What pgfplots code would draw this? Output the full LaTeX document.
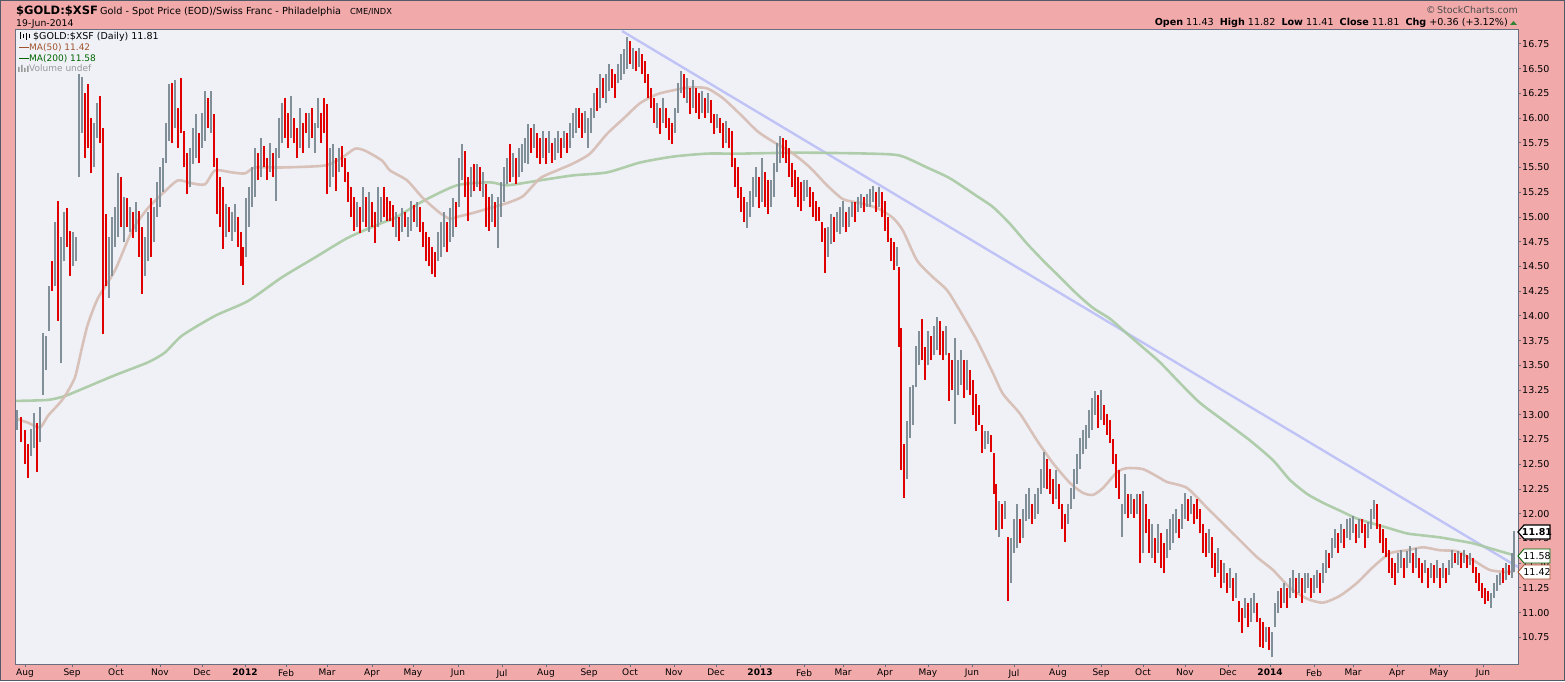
\documentclass[border=0pt]{standalone}
\usepackage{fontspec}
\setmainfont{DejaVu Sans}
\usepackage{pgfplots}
\usepackage{pgfplotstable}
\pgfplotsset{compat=1.18}
\definecolor{pinkbg}{RGB}{241,169,170}
\definecolor{plotbg}{RGB}{240,241,247}
\definecolor{framec}{RGB}{104,112,128}
\definecolor{barred}{RGB}{224,0,0}
\definecolor{bargray}{RGB}{128,143,152}
\definecolor{maf}{RGB}{214,188,178}
\definecolor{mas}{RGB}{168,202,162}
\definecolor{trend}{RGB}{184,188,246}
\definecolor{legbrown}{RGB}{160,82,45}
\definecolor{leggreen}{RGB}{0,100,0}

\pgfplotstableread{
x lo hi c
17 12.85 13.05 0
21 12.72 12.98 1
25 12.50 12.85 1
28 12.36 12.70 1
31 12.58 12.86 0
34 12.66 13.02 0
37 12.42 12.92 1
40 12.72 13.08 0
43 13.20 13.83 0
46 13.45 13.80 0
49 13.85 14.30 0
52 14.25 14.55 1
55 14.30 14.95 0
58 13.95 15.16 1
61 13.52 14.80 0
64 14.55 15.05 0
67 14.70 15.09 1
70 14.40 14.86 1
73 14.50 14.85 0
76 14.55 14.80 0
79 15.40 16.45 0
82 15.85 16.41 0
85 15.60 16.25 1
88 15.70 16.34 1
91 15.44 16.00 1
94 15.50 15.95 0
97 15.80 16.15 0
100 15.75 16.22 1
103 13.82 15.90 1
106 14.30 15.03 1
109 14.18 14.80 0
112 14.40 15.00 0
115 14.70 15.10 0
118 14.80 15.44 0
121 14.90 15.40 1
124 14.75 15.20 0
127 14.90 15.19 1
130 14.85 15.10 0
133 14.79 15.05 1
136 14.85 15.15 0
139 14.60 15.06 1
142 14.22 14.90 1
145 14.40 14.80 0
148 14.55 15.05 0
151 14.60 15.19 1
154 14.75 15.10 0
157 15.00 15.35 0
160 15.10 15.50 0
163 15.25 15.60 0
166 15.55 15.95 0
169 15.77 16.34 0
172 15.75 16.35 1
175 15.90 16.38 0
178 15.70 16.10 1
181 15.85 16.40 1
184 15.50 15.87 1
187 15.23 15.65 1
190 15.30 15.70 0
193 15.54 15.90 0
196 15.60 16.04 0
199 15.55 15.85 1
202 15.70 16.05 0
205 15.77 16.27 0
208 15.90 16.20 1
211 15.85 16.27 0
214 15.50 16.04 1
217 15.03 15.60 1
220 14.90 15.40 1
223 14.68 15.30 1
226 14.80 15.13 0
229 14.85 15.10 1
232 14.76 15.05 0
235 14.85 15.13 0
238 14.70 15.00 1
241 14.50 14.85 1
243 14.31 14.70 1
246 14.59 15.19 0
249 14.90 15.30 0
252 15.10 15.50 0
255 15.20 15.70 0
258 15.37 15.65 1
261 15.40 15.80 0
264 15.50 15.72 1
267 15.37 15.60 1
270 15.45 15.75 0
273 15.40 15.65 1
276 15.16 15.70 0
279 15.60 16.00 0
282 15.75 16.15 0
285 15.80 16.20 1
288 15.70 16.05 1
291 15.80 16.22 0
294 15.75 16.00 1
297 15.60 15.90 1
300 15.70 16.10 0
303 15.65 15.95 1
306 15.85 16.05 1
309 15.70 16.05 0
312 15.80 16.10 1
315 15.65 15.95 0
318 15.90 16.20 0
321 15.75 16.05 1
324 15.85 16.20 1
327 15.23 16.14 1
330 15.30 15.70 0
333 15.40 15.74 0
336 15.26 15.60 1
339 15.45 15.70 0
342 15.50 15.72 1
345 15.35 15.60 1
348 15.15 15.45 1
351 15.00 15.30 1
354 14.86 15.20 1
357 14.90 15.15 0
360 14.84 15.10 1
363 14.95 15.30 0
366 14.90 15.20 1
369 14.85 15.25 0
372 14.90 15.15 1
375 14.74 15.05 1
378 14.90 15.30 0
381 14.95 15.20 0
384 15.00 15.30 1
387 14.96 15.20 1
390 14.96 15.16 1
393 14.90 15.12 1
396 14.80 15.05 0
399 14.76 15.00 1
402 14.85 15.09 0
405 14.90 15.05 1
408 14.80 15.00 0
411 14.86 15.16 0
414 14.95 15.12 1
417 14.90 15.15 0
420 14.85 15.10 1
423 14.70 14.95 1
426 14.55 14.85 1
429 14.50 14.80 1
432 14.42 14.70 1
435 14.39 14.65 1
438 14.55 14.85 0
441 14.60 14.95 0
444 14.70 15.05 0
447 14.65 14.95 1
450 14.75 15.09 0
453 14.80 15.19 0
456 14.90 15.15 1
459 15.10 15.60 0
462 15.37 15.74 0
465 15.20 15.67 1
468 14.96 15.40 1
471 15.20 15.50 0
474 15.26 15.54 1
477 15.30 15.54 0
480 15.26 15.50 1
483 15.20 15.45 0
486 14.90 15.33 1
489 14.86 15.20 1
492 14.95 15.23 0
495 14.90 15.15 1
498 14.69 15.20 0
501 15.00 15.35 0
504 15.15 15.50 0
507 15.33 15.60 0
510 15.35 15.74 1
513 15.40 15.65 0
516 15.33 15.60 1
519 15.40 15.70 0
522 15.45 15.74 0
525 15.55 15.80 0
528 15.54 15.94 0
531 15.65 15.90 1
534 15.70 15.94 0
537 15.60 15.85 1
540 15.54 15.80 1
543 15.60 15.87 0
546 15.54 15.80 1
549 15.65 15.87 0
552 15.55 15.75 1
555 15.58 15.80 0
558 15.65 15.87 0
561 15.60 15.80 1
564 15.70 15.87 0
567 15.65 15.85 1
570 15.70 15.95 0
573 15.80 16.05 0
576 15.85 16.10 0
579 15.90 16.10 1
582 15.80 16.05 1
585 15.85 16.07 0
588 15.70 16.00 0
591 15.85 16.10 0
594 16.00 16.25 0
597 16.07 16.30 1
600 16.10 16.45 0
603 16.20 16.40 1
606 16.15 16.45 0
609 16.27 16.55 0
612 16.30 16.50 1
615 16.20 16.45 1
618 16.35 16.55 0
621 16.38 16.65 0
624 16.45 16.70 0
627 16.50 16.82 0
630 16.55 16.78 1
633 16.50 16.71 0
636 16.48 16.68 1
639 16.52 16.71 0
642 16.45 16.65 1
645 16.35 16.58 1
648 16.20 16.45 1
651 16.10 16.30 1
654 15.95 16.20 1
657 15.90 16.15 0
660 15.84 16.10 1
663 15.95 16.20 0
666 15.90 16.10 1
669 15.78 16.00 1
672 15.74 15.95 1
675 15.85 16.10 0
678 16.05 16.35 0
681 16.25 16.48 0
684 16.20 16.45 1
687 16.15 16.40 0
690 16.04 16.30 1
693 16.10 16.38 0
696 16.05 16.30 1
699 15.99 16.25 1
702 16.05 16.27 0
705 16.00 16.20 1
708 16.05 16.25 0
711 15.95 16.18 1
714 15.84 16.04 1
717 15.90 16.04 0
720 15.85 16.00 1
723 15.70 15.95 1
726 15.75 15.97 0
729 15.70 15.90 1
732 15.50 15.87 1
735 15.30 15.60 1
738 15.19 15.50 1
741 15.05 15.30 1
744 14.95 15.20 1
747 14.89 15.15 0
750 15.00 15.26 0
753 15.10 15.40 0
756 15.20 15.50 0
759 15.09 15.40 1
762 15.15 15.60 0
765 15.10 15.45 1
768 15.03 15.37 1
771 15.10 15.37 0
774 15.20 15.55 0
777 15.45 15.75 0
780 15.55 15.82 0
783 15.60 15.80 1
786 15.55 15.78 1
789 15.40 15.70 1
792 15.30 15.55 1
795 15.20 15.47 1
798 15.10 15.40 1
801 15.06 15.35 1
804 15.16 15.37 0
807 15.20 15.37 0
810 15.10 15.30 1
813 15.00 15.25 1
816 14.96 15.16 1
819 14.96 15.10 1
822 14.75 14.95 1
825 14.43 14.89 1
828 14.60 14.90 0
831 14.73 15.03 0
834 14.75 15.00 1
837 14.85 15.05 0
840 14.83 15.10 0
843 14.90 15.16 0
846 14.85 15.05 1
849 14.90 15.10 0
852 15.00 15.15 0
855 14.95 15.15 1
858 15.05 15.20 0
861 15.09 15.23 0
864 15.05 15.20 1
867 15.10 15.23 0
870 15.10 15.28 0
873 15.15 15.31 0
876 15.05 15.25 1
879 15.10 15.30 0
882 15.00 15.25 1
885 14.86 15.16 1
888 14.75 15.00 1
891 14.55 14.79 1
894 14.46 14.75 1
897 14.50 14.70 0
899 13.68 14.49 1
901 12.44 13.88 1
904 12.16 12.70 1
907 12.35 12.94 0
910 12.77 13.28 0
913 12.90 13.30 0
916 13.28 13.70 0
919 13.50 13.85 0
922 13.55 13.97 1
925 13.35 13.68 1
928 13.50 13.85 0
931 13.55 13.80 1
934 13.60 13.90 0
937 13.65 13.99 0
940 13.60 13.95 1
943 13.55 13.85 1
946 13.60 13.90 0
949 13.14 13.62 1
952 13.25 13.55 1
955 12.91 13.78 0
958 13.20 13.55 0
961 13.30 13.65 0
964 13.17 13.55 1
967 13.25 13.55 0
970 13.20 13.45 1
973 13.00 13.35 1
976 12.84 13.21 1
979 12.90 13.10 1
982 12.61 12.90 1
985 12.65 12.84 0
988 12.70 12.84 0
991 12.62 12.80 1
994 12.20 12.61 1
996 11.83 12.30 1
999 11.76 12.13 0
1002 11.85 12.10 1
1005 11.95 12.13 0
1008 11.12 11.76 1
1011 11.30 11.75 0
1014 11.60 11.95 0
1017 11.65 12.10 0
1020 11.70 11.95 1
1023 11.75 12.05 0
1026 11.93 12.20 0
1029 11.95 12.26 0
1032 11.90 12.10 1
1035 11.95 12.20 0
1038 12.00 12.26 0
1041 12.20 12.45 0
1044 12.26 12.62 0
1047 12.25 12.55 1
1050 12.20 12.45 1
1053 12.10 12.35 1
1056 12.15 12.44 0
1059 12.05 12.30 1
1062 11.85 12.10 1
1065 11.71 12.00 1
1068 11.90 12.10 0
1071 12.05 12.26 0
1074 12.15 12.45 0
1077 12.30 12.60 0
1080 12.45 12.77 0
1083 12.60 12.85 0
1086 12.65 12.90 0
1089 12.77 13.05 0
1092 12.85 13.17 0
1095 13.00 13.24 0
1098 12.87 13.20 1
1101 12.95 13.25 0
1104 12.90 13.10 1
1107 12.80 13.01 1
1110 12.71 12.95 1
1113 12.50 12.75 1
1116 12.26 12.60 1
1119 12.15 12.44 1
1122 11.76 12.10 0
1125 12.00 12.40 0
1128 11.96 12.20 1
1131 12.00 12.20 0
1134 11.96 12.15 1
1137 12.00 12.20 0
1140 11.50 12.20 1
1143 11.60 12.23 0
1146 11.80 12.10 1
1149 11.60 11.95 1
1152 11.55 11.90 0
1155 11.50 11.75 1
1158 11.60 11.90 0
1161 11.45 11.80 1
1164 11.40 11.70 1
1167 11.55 11.85 0
1170 11.63 11.95 0
1173 11.70 12.00 0
1176 11.80 12.05 0
1179 11.75 11.95 1
1182 11.85 12.10 0
1185 11.95 12.21 0
1188 11.93 12.15 1
1191 12.00 12.18 0
1194 11.90 12.10 1
1197 11.95 12.15 1
1200 11.80 12.05 1
1203 11.60 11.90 1
1206 11.56 11.80 1
1209 11.60 11.85 0
1212 11.45 11.76 1
1215 11.36 11.60 1
1218 11.40 11.65 0
1221 11.25 11.53 1
1224 11.30 11.50 0
1227 11.20 11.40 1
1230 11.25 11.45 0
1233 11.12 11.35 1
1236 11.15 11.40 0
1239 10.90 11.12 1
1242 10.79 11.05 1
1245 10.95 11.15 0
1248 10.85 11.10 1
1251 10.90 11.15 0
1254 11.00 11.20 0
1257 10.90 11.10 1
1260 10.65 10.95 1
1263 10.64 10.90 1
1266 10.70 10.85 0
1269 10.62 10.85 1
1272 10.55 10.80 0
1275 10.85 11.10 0
1278 11.00 11.22 0
1281 11.05 11.25 1
1284 11.10 11.30 0
1287 11.05 11.25 1
1290 11.15 11.35 0
1293 11.20 11.43 0
1296 11.15 11.35 1
1299 11.20 11.40 0
1302 11.10 11.35 1
1305 11.20 11.40 0
1308 11.25 11.40 0
1311 11.15 11.35 1
1314 11.20 11.38 0
1317 11.25 11.43 0
1320 11.20 11.40 1
1323 11.30 11.50 0
1326 11.40 11.63 0
1329 11.45 11.60 1
1332 11.55 11.75 0
1335 11.65 11.85 0
1338 11.60 11.80 1
1341 11.70 11.90 0
1344 11.65 11.85 1
1347 11.75 11.95 0
1350 11.73 11.96 0
1353 11.80 11.98 0
1356 11.70 11.90 1
1359 11.75 11.95 0
1362 11.80 11.95 1
1365 11.65 11.90 1
1368 11.75 11.92 0
1371 11.85 12.05 0
1374 11.95 12.14 0
1377 11.85 12.10 1
1380 11.70 11.90 1
1383 11.60 11.85 1
1386 11.56 11.75 1
1389 11.40 11.63 1
1392 11.35 11.55 1
1395 11.28 11.50 1
1398 11.40 11.60 0
1401 11.45 11.63 0
1404 11.35 11.55 1
1407 11.45 11.62 0
1410 11.50 11.67 0
1413 11.40 11.60 1
1416 11.45 11.65 0
1419 11.35 11.55 1
1422 11.30 11.50 1
1425 11.40 11.53 0
1428 11.25 11.45 1
1431 11.35 11.50 0
1434 11.30 11.48 1
1437 11.35 11.53 0
1440 11.25 11.45 1
1443 11.35 11.50 0
1446 11.30 11.45 1
1449 11.38 11.53 0
1452 11.45 11.63 0
1455 11.50 11.60 1
1458 11.48 11.62 0
1461 11.45 11.60 1
1464 11.50 11.63 0
1467 11.45 11.58 1
1470 11.48 11.60 0
1473 11.40 11.55 1
1476 11.30 11.46 1
1479 11.22 11.40 1
1482 11.15 11.30 1
1485 11.09 11.25 1
1488 11.12 11.22 1
1491 11.05 11.20 0
1494 11.15 11.30 0
1497 11.22 11.38 0
1500 11.28 11.40 0
1503 11.30 11.45 1
1506 11.33 11.50 0
1509 11.38 11.48 1
1512 11.35 11.60 0
1514 11.41 11.82 0
}\bars

\begin{document}
\begin{tikzpicture}[x=1pt,y=1pt]
\fill[pinkbg] (0,0) rectangle (1565,681);
\draw[framec!80!black, line width=0.8pt] (0.4,0.4) rectangle (1564.6,680.6);
\begin{axis}[
  at={(16pt,17pt)}, anchor=south west,
  scale only axis, width=1502pt, height=634pt,
  xmin=16, xmax=1518, ymin=10.48, ymax=16.89,
  axis background/.style={fill=plotbg},
  axis line style={framec, line width=1pt},
  tick align=outside, major tick length=3pt,
  tick style={framec, line width=0.8pt},
  xtick pos=left, ytick pos=right, yticklabel pos=right,
  xtick={25,72,116,160,202,245,286,327,372,413,458,502,546,589,630,674,716,760,804,843,885,928,972,1014,1058,1101,1143,1185,1228,1270,1314,1353,1397,1439,1483},
  xticklabels={Aug,Sep,Oct,Nov,Dec,\textbf{2012},Feb,Mar,Apr,May,Jun,Jul,Aug,Sep,Oct,Nov,Dec,\textbf{2013},Feb,Mar,Apr,May,Jun,Jul,Aug,Sep,Oct,Nov,Dec,\textbf{2014},Feb,Mar,Apr,May,Jun},
  xticklabel style={font=\fontsize{9}{10}\selectfont, inner sep=1pt, yshift=-1pt},
  ytick={10.75,11.00,11.25,11.50,11.75,12.00,12.25,12.50,12.75,13.00,13.25,13.50,13.75,14.00,14.25,14.50,14.75,15.00,15.25,15.50,15.75,16.00,16.25,16.50,16.75},
  /pgf/number format/assume math mode=true,
  yticklabel style={font=\fontsize{9.5}{10}\selectfont, /pgf/number format/fixed, /pgf/number format/fixed zerofill, /pgf/number format/precision=2, inner sep=1pt},
]
\addplot[trend, line width=2.4pt, opacity=0.85] coordinates {(622,16.88) (1518,11.46)};
\addplot[mas, line width=2.6pt, opacity=0.9, smooth, tension=0.4] coordinates {
(16,13.14) (48,13.15) (65,13.19) (82,13.26) (115,13.40) (148,13.53) (165,13.63) (182,13.80) (215,14.00) (248,14.15) (282,14.39) (315,14.59) (348,14.79) (382,14.94) (395,14.99) (423,15.16) (457,15.32) (490,15.35) (507,15.32) (540,15.37) (573,15.42) (607,15.45) (640,15.55) (673,15.61) (707,15.64) (740,15.64) (800,15.65) (870,15.64) (900,15.62) (927,15.50) (950,15.39) (977,15.21) (993,15.10) (1010,14.93) (1027,14.73) (1043,14.56) (1060,14.39) (1077,14.22) (1093,14.08) (1110,13.97) (1127,13.82) (1143,13.68) (1160,13.53) (1180,13.32) (1200,13.12) (1225,12.93) (1250,12.74) (1273,12.54) (1290,12.34) (1307,12.20) (1323,12.11) (1340,12.03) (1357,11.95) (1373,11.90) (1390,11.85) (1407,11.80) (1423,11.78) (1440,11.76) (1457,11.73) (1473,11.70) (1490,11.65) (1507,11.60) (1514,11.58)};
\addplot[maf, line width=2.6pt, opacity=0.9, smooth, tension=0.4] coordinates {
(16,12.96) (28,12.92) (40,12.87) (48,12.99) (58,13.10) (65,13.19) (75,13.38) (82,13.68) (88,13.92) (98,14.18) (115,14.46) (132,14.86) (148,15.09) (165,15.26) (178,15.37) (192,15.34) (205,15.33) (215,15.47) (232,15.45) (245,15.44) (255,15.50) (282,15.50) (325,15.52) (342,15.60) (355,15.69) (365,15.67) (382,15.57) (390,15.47) (407,15.37) (423,15.19) (440,15.04) (450,14.98) (457,15.00) (473,15.04) (490,15.09) (507,15.14) (523,15.21) (540,15.39) (557,15.47) (573,15.54) (590,15.64) (607,15.84) (623,15.99) (640,16.15) (657,16.24) (673,16.28) (690,16.31) (707,16.30) (723,16.20) (740,16.04) (757,15.87) (770,15.78) (793,15.64) (810,15.50) (827,15.32) (843,15.18) (860,15.14) (877,15.09) (893,14.99) (903,14.86) (917,14.56) (933,14.39) (947,14.26) (960,14.05) (977,13.75) (993,13.42) (1003,13.21) (1020,13.01) (1037,12.74) (1053,12.51) (1070,12.31) (1083,12.21) (1093,12.19) (1103,12.26) (1117,12.42) (1127,12.46) (1143,12.45) (1160,12.36) (1167,12.32) (1187,12.26) (1207,12.06) (1223,11.90) (1240,11.73) (1257,11.56) (1273,11.43) (1290,11.25) (1307,11.14) (1323,11.10) (1340,11.17) (1357,11.30) (1373,11.46) (1390,11.60) (1407,11.63) (1423,11.66) (1440,11.63) (1457,11.62) (1473,11.53) (1490,11.43) (1507,11.41) (1514,11.42)};
\addplot[draw=none, mark=none, restrict expr to domain={\thisrow{c}}{0:0},
  error bars/.cd, y dir=plus, y explicit, error mark=none,
  error bar style={draw=bargray, line width=1.7pt}]
  table[x=x, y=lo, y error plus expr={\thisrow{hi}-\thisrow{lo}}] {\bars};
\addplot[draw=none, mark=none, restrict expr to domain={\thisrow{c}}{1:1},
  error bars/.cd, y dir=plus, y explicit, error mark=none,
  error bar style={draw=barred, line width=1.7pt}]
  table[x=x, y=lo, y error plus expr={\thisrow{hi}-\thisrow{lo}}] {\bars};
\end{axis}
% header
\node[anchor=base west, inner sep=0] at (16,666) {\fontsize{11.5}{12}\selectfont\bfseries \$GOLD:\$XSF};
\node[anchor=base west, inner sep=0] at (100,666) {\fontsize{9.7}{11}\selectfont Gold - Spot Price (EOD)/Swiss Franc - Philadelphia};
\node[anchor=base west, inner sep=0] at (350,666) {\fontsize{8.3}{9}\selectfont CME/INDX};
\node[anchor=base west, inner sep=0] at (16,654) {\fontsize{9.3}{10}\selectfont 19-Jun-2014};
\node[anchor=base east, inner sep=0, text=black!70] at (1518,667) {\fontsize{9.5}{10}\selectfont ©\,StockCharts.com};
\node[anchor=base east, inner sep=0] at (1508,655) {\fontsize{9.6}{10}\selectfont \textbf{Open} 11.43\ \ \textbf{High} 11.82\ \ \textbf{Low} 11.41\ \ \textbf{Close} 11.81\ \ \textbf{Chg} +0.36 (+3.12\%)};
\fill[leggreen!80!white] (1510,656) -- (1517,656) -- (1513.5,660) -- cycle;
% legend
\draw[black, line width=1pt] (20,642)--(20,649) (23,643)--(23,647) (26,641)--(26,648) (29,643)--(29,647);
\node[anchor=base west, inner sep=0] at (33,641) {\fontsize{9.5}{10}\selectfont \$GOLD:\$XSF (Daily) 11.81};
\draw[legbrown, line width=1.5pt] (19,633.5)--(29,633.5);
\node[anchor=base west, inner sep=0, text=legbrown] at (29,630) {\fontsize{9}{10}\selectfont MA(50) 11.42};
\draw[leggreen, line width=1.5pt] (19,622.5)--(29,622.5);
\node[anchor=base west, inner sep=0, text=leggreen] at (29,619) {\fontsize{9}{10}\selectfont MA(200) 11.58};
\fill[black!40] (18,609) rectangle (19.5,614) (21,609) rectangle (22.5,616) (24,609) rectangle (25.5,613) (27,609) rectangle (28.5,615);
\node[anchor=base west, inner sep=0, text=black!40] at (29,609) {\fontsize{9}{10}\selectfont Volume undef};
% value tags
\draw[black, line width=1.2pt, fill=white] (1518,149) -- (1524,156) -- (1550,156) -- (1550,142) -- (1524,142) -- cycle;
\node[inner sep=0] at (1537,149) {\fontsize{9.5}{10}\selectfont\bfseries 11.81};
\draw[leggreen, line width=0.8pt, fill=white] (1518,125) -- (1524,132) -- (1550,132) -- (1550,118) -- (1524,118) -- cycle;
\node[inner sep=0] at (1537,125) {\fontsize{9.5}{10}\selectfont 11.58};
\draw[legbrown, line width=0.8pt, fill=white] (1518,109) -- (1524,116) -- (1550,116) -- (1550,102) -- (1524,102) -- cycle;
\node[inner sep=0] at (1537,109) {\fontsize{9.5}{10}\selectfont 11.42};
\pgfresetboundingbox
\useasboundingbox (0,0) rectangle (1565,681);
\end{tikzpicture}
\end{document}
